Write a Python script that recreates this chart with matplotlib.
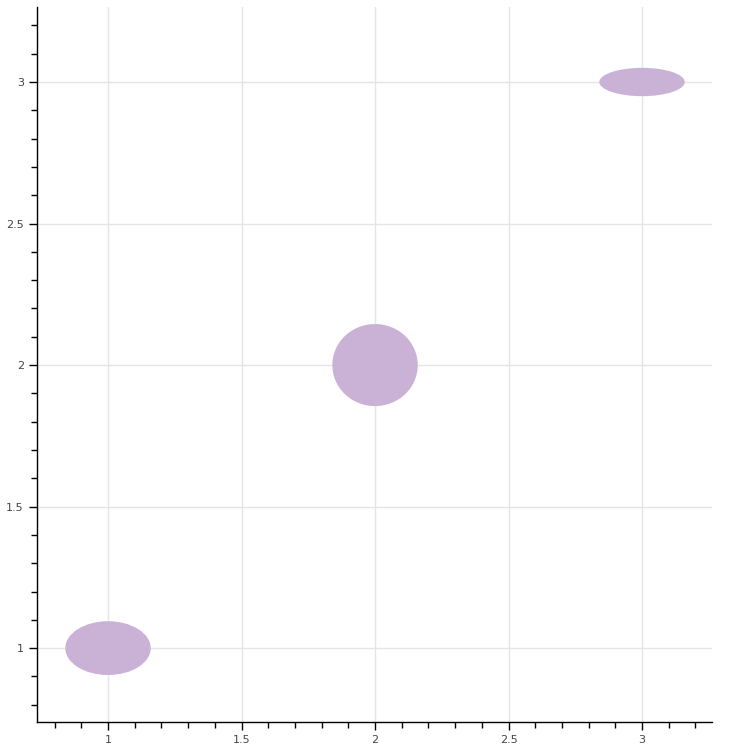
import matplotlib
matplotlib.use('Agg')
import matplotlib.pyplot as plt
from matplotlib.patches import Ellipse
from matplotlib.ticker import MultipleLocator

x = [1, 2, 3]
y = [1, 2, 3]
widths = [0.32, 0.32, 0.32]
heights = [0.19, 0.29, 0.10]

fig = plt.figure(figsize=(7.5, 7.5), dpi=100)
ax = fig.add_axes([37 / 750, 28 / 750, 675 / 750, 715 / 750])

for xi, yi, w, h in zip(x, y, widths, heights):
    ax.add_patch(Ellipse((xi, yi), w, h, facecolor='#CAB2D6', edgecolor='none', zorder=3))

ax.set_xlim(0.734, 3.262)
ax.set_ylim(0.739, 3.265)
ax.xaxis.set_major_locator(MultipleLocator(0.5))
ax.yaxis.set_major_locator(MultipleLocator(0.5))
ax.xaxis.set_minor_locator(MultipleLocator(0.1))
ax.yaxis.set_minor_locator(MultipleLocator(0.1))
ax.xaxis.set_major_formatter(lambda v, p: f'{v:g}')
ax.yaxis.set_major_formatter(lambda v, p: f'{v:g}')

ax.grid(True, which='major', color='#e5e5e5', linewidth=1, zorder=0)
ax.set_axisbelow(True)
for side in ('top', 'right'):
    ax.spines[side].set_visible(False)
for side in ('left', 'bottom'):
    ax.spines[side].set_color('black')
    ax.spines[side].set_linewidth(1)

ax.tick_params(which='major', direction='out', length=6, width=1, colors='black',
               labelcolor='#444444', labelsize=8)
ax.tick_params(which='minor', direction='out', length=4, width=1, colors='black')

fig.savefig('out.png', dpi=100, facecolor='white')
